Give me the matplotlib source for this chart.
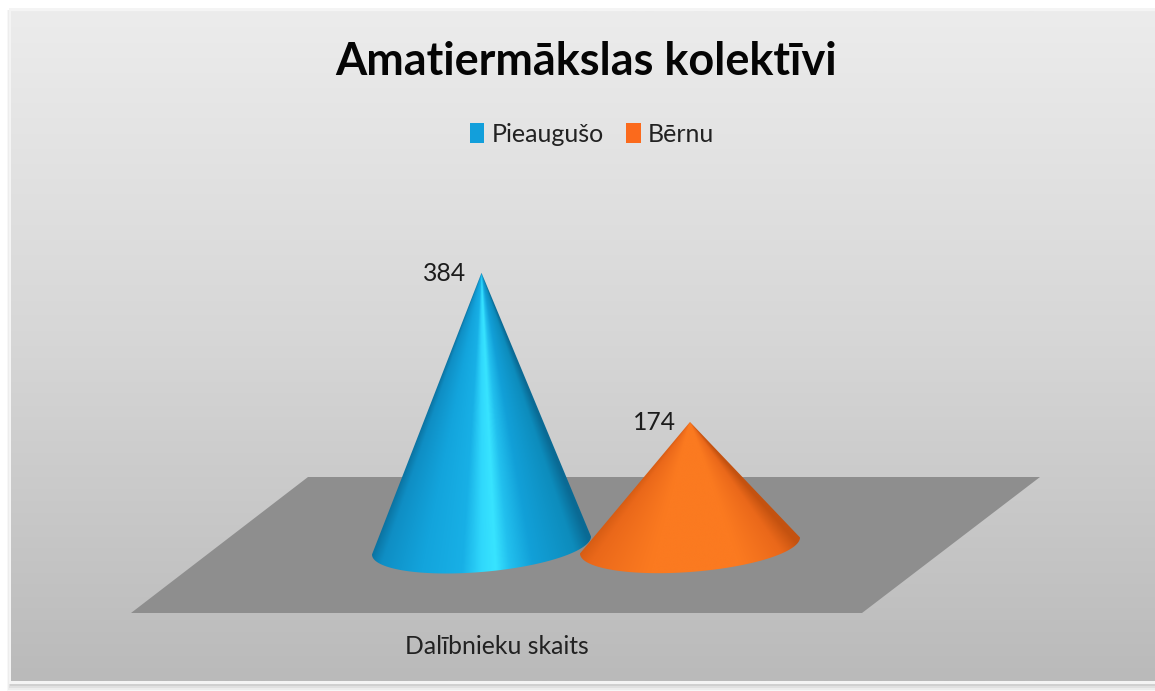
import numpy as np
import matplotlib
matplotlib.use('Agg')
import matplotlib.pyplot as plt
from matplotlib.colors import LinearSegmentedColormap
from matplotlib.patches import Patch, Polygon, Rectangle

plt.rcParams['font.family'] = ['Lato', 'DejaVu Sans']

# data
title = "Amatiermākslas kolektīvi"
category = "Dalībnieku skaits"
series = ["Pieaugušo", "Bērnu"]
values = [384, 174]

# looks
W, H = 1155, 691
legend_colors = ['#129fdb', '#fb6a1c']
cone_x = [481.5, 690]
cone_a = [(109.5, -9), (110, -8)]
cone_b = 26.5
base_px = 545.5
px_per_unit = 0.71

blue_stops = [(0, '#0a6c98'), (0.07, '#0f8ec4'), (0.25, '#13a4dc'), (0.42, '#18b0e6'),
              (0.5, '#30d8fc'), (0.56, '#38e4ff'), (0.62, '#22c0ee'), (0.72, '#12a0d8'),
              (0.92, '#0d8cbc'), (1, '#0a6a94')]
orange_stops = [(0, '#cf5812'), (0.1, '#ea681a'), (0.35, '#fb7a20'), (0.7, '#fb7a20'),
                (0.9, '#ea681a'), (1, '#c45210')]
cmaps = [LinearSegmentedColormap.from_list('blue', blue_stops),
         LinearSegmentedColormap.from_list('orange', orange_stops)]

fig = plt.figure(figsize=(W / 100, H / 100), dpi=100, facecolor='white')

# background layer, in pixels
bg = fig.add_axes([0, 0, 1, 1])
bg.set_xlim(0, W)
bg.set_ylim(H, 0)
bg.axis('off')

# soft shadow around the panel
for grow, alpha in [(9, 0.03), (7, 0.04), (5, 0.05), (3, 0.07)]:
    bg.add_patch(Rectangle((11 - grow * 0.5, 10), W, 674 + grow * 0.8, fc='black', ec='none', alpha=alpha))
bg.add_patch(Rectangle((9, 8), W, 676, fc='#f4f4f4', ec='none'))

grad = np.linspace(0, 1, 256).reshape(-1, 1)
panel_cmap = LinearSegmentedColormap.from_list('panel', ['#ececec', '#d6d6d6', '#bababa'])
bg.imshow(grad, cmap=panel_cmap, extent=(11, W, 681, 11), aspect='auto', zorder=1)
bg.set_xlim(0, W)
bg.set_ylim(H, 0)

floor = Polygon([(131, 613), (862, 613), (1040, 477), (308, 477)], fc='#8e8e8e', ec='none', zorder=2)
bg.add_patch(floor)

# chart layer: x in pixels, y in data values
ax = fig.add_axes([0, 0, 1, 1], facecolor='none')
ax.set_xlim(0, W)
ax.set_ylim((base_px - H) / px_per_unit, base_px / px_per_unit)
ax.axis('off')

for i in range(len(values)):
    cx = cone_x[i]
    ax_x, ax_y = cone_a[i]
    t = np.linspace(0, np.pi, 80)
    ex = cx + ax_x * np.cos(t)
    ey = (ax_y * np.cos(t) + cone_b * np.sin(t)) / -px_per_unit
    outline = np.column_stack([np.r_[cx, ex], np.r_[values[i], ey]])

    # shading fans out from the apex
    x0, x1 = cx - ax_x - 3, cx + ax_x + 3
    y0, y1 = ey.min() - 2, values[i] + 2
    xs, ys = np.meshgrid(np.linspace(x0, x1, 500), np.linspace(y1, y0, 500))
    frac = np.clip((values[i] - ys) / values[i], 0.002, None)
    u = np.clip((xs - cx) / (ax_x * frac), -1, 1)
    im = ax.imshow((u + 1) / 2, cmap=cmaps[i], vmin=0, vmax=1, extent=(x0, x1, y0, y1),
                   aspect='auto', zorder=3 + i, interpolation='bilinear')
    im.set_clip_path(Polygon(outline, transform=ax.transData))

ax.set_xlim(0, W)
ax.set_ylim((base_px - H) / px_per_unit, base_px / px_per_unit)

label_dx = [-36.5, -36]
for i in range(len(values)):
    ax.annotate(str(values[i]), (cone_x[i] + label_dx[i], values[i]), xytext=(0, -0.3),
                textcoords='offset points', ha='center', va='center',
                fontsize=17.8, color='#1c1c1c', zorder=6)

fig.text(586 / W, 1 - 62 / H, title, ha='center', va='center', fontsize=32.4,
         fontweight='bold', color='#050505')
fig.text(497 / W, 1 - 647 / H, category, ha='center', va='center', fontsize=17.8, color='#222222')

handles = [Patch(fc=legend_colors[0], ec='none'), Patch(fc=legend_colors[1], ec='none')]
leg = fig.legend(handles, series, loc='center', bbox_to_anchor=(592 / W, 1 - 134 / H), ncols=2,
                 frameon=False, fontsize=18, handlelength=0.58, handleheight=0.85,
                 handletextpad=0.3, columnspacing=0.9, labelcolor='#222222')

fig.savefig('out.png', dpi=100, facecolor='white')
